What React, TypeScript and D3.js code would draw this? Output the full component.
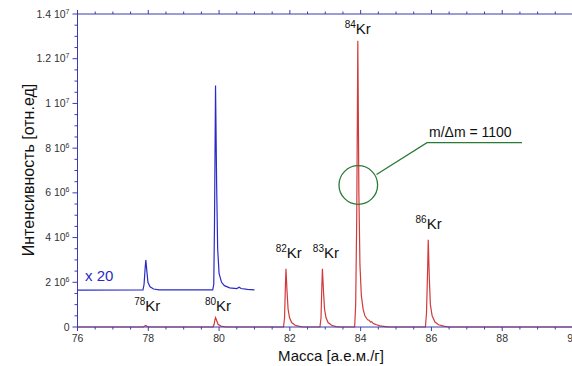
import React from "react";
import * as d3 from "d3";

// x-axis: mass; y-axis: intensity (units of 1e6)
const xTicksMajor = [76, 78, 80, 82, 84, 86, 88, 90];
const xTickLabels = ["76", "78", "80", "82", "84", "86", "88", "90"];
const yTicksMajor = [0, 2, 4, 6, 8, 10, 12, 14];
const yTickMant = ["0", "2", "4", "6", "8", "1", "1.2", "1.4"];
const yTickExp = ["", "6", "6", "6", "6", "7", "7", "7"];

// red spectrum [mass, intensity x1e6]
const redMass = [
  76, 77.86, 77.9, 77.93, 77.97, 78.05,
  79.83, 79.86, 79.88, 79.9, 79.93, 79.97, 80.05, 80.2,
  81.82, 81.85, 81.87, 81.89, 81.92, 81.95, 81.99, 82.05, 82.15, 82.3, 82.4,
  82.85, 82.88, 82.9, 82.92, 82.95, 82.98, 83.02, 83.08, 83.18, 83.3, 83.4,
  83.83, 83.86, 83.89, 83.92, 83.95, 83.98, 84.02, 84.07, 84.12, 84.17, 84.2, 84.24, 84.28, 84.31, 84.35, 84.4, 84.45, 84.55, 84.7, 84.8,
  85.83, 85.86, 85.89, 85.91, 85.94, 85.97, 86.02, 86.1, 86.2, 86.35, 86.5, 90,
];
const redInt = [
  0, 0, 0.04, 0.07, 0.02, 0,
  0, 0.12, 0.3, 0.42, 0.3, 0.12, 0.04, 0,
  0, 0.4, 1.6, 2.6, 1.6, 0.8, 0.42, 0.2, 0.08, 0.02, 0,
  0, 0.4, 1.6, 2.6, 1.6, 0.8, 0.42, 0.2, 0.08, 0.02, 0,
  0, 1.0, 5.0, 12.8, 6.0, 2.8, 1.4, 0.8, 0.5, 0.38, 0.32, 0.3, 0.22, 0.24, 0.17, 0.13, 0.1, 0.05, 0.02, 0,
  0, 0.6, 2.4, 3.9, 2.2, 1.0, 0.5, 0.22, 0.1, 0.04, 0, 0,
];

// blue spectrum (x20, offset)
const blueMass = [
  76, 77.85, 77.88, 77.91, 77.93, 77.96, 77.99, 78.05, 78.15, 78.3,
  79.82, 79.85, 79.87, 79.9, 79.93, 79.96, 80.0, 80.07, 80.15, 80.3, 80.5, 80.57, 80.62, 80.8, 81.0,
];
const blueInt = [
  1.65, 1.66, 1.9, 2.6, 3.0, 2.5, 2.0, 1.8, 1.7, 1.66,
  1.66, 1.9, 4.5, 10.8, 6.5, 3.5, 2.4, 2.0, 1.85, 1.75, 1.72, 1.78, 1.72, 1.68, 1.66,
];

const isoLabels = ["78", "80", "82", "83", "84", "86"];
const isoMass = [77.6, 79.6, 81.6, 82.65, 83.55, 85.55];
const isoInt = [0.7, 0.7, 3.1, 3.1, 13.1, 4.4];

const W = 572;
const H = 366;
const x0 = 77.5, x1 = 573, yTop = 14, yBot = 327;
const axisColor = "#3b3bb0";
const font = "'Liberation Sans', Arial, sans-serif";

export default function App() {
  const x = d3.scaleLinear().domain([76, 90]).range([x0, x1]);
  const y = d3.scaleLinear().domain([0, 14]).range([yBot, yTop]);
  const line = d3
    .line<[number, number]>()
    .x((d) => x(d[0]))
    .y((d) => y(d[1]));
  const red: [number, number][] = redMass.map((m, i) => [m, redInt[i]]);
  const blue: [number, number][] = blueMass.map((m, i) => [m, blueInt[i]]);
  const xMinor = d3.range(76, 90.001, 0.5).filter((v) => Math.abs(v % 2) > 0.01);
  const yMinor = d3.range(0, 14.001, 0.5).filter((v) => Math.abs(v % 2) > 0.01);

  return (
    <svg
      width={W}
      height={H}
      style={{ position: "absolute", left: 0, top: 0, background: "#fff" }}
      fontFamily={font}
    >
      <rect x={0} y={0} width={W} height={H} fill="#fff" />
      {/* red spectrum */}
      <path d={line(red) || ""} fill="none" stroke="#d23a3a" strokeWidth={1.2} />
      {/* blue spectrum */}
      <path d={line(blue) || ""} fill="none" stroke="#2a2ac8" strokeWidth={1.2} />

      {/* axes */}
      <g stroke={axisColor} strokeWidth={1}>
        <line x1={x0} x2={x0} y1={yTop} y2={yBot} />
        <line x1={x0} x2={x1} y1={yBot} y2={yBot} />
        <line x1={x0} x2={x1} y1={yTop} y2={yTop} />
        <line x1={x1} x2={x1} y1={yTop} y2={yBot} />
        {xTicksMajor.map((v) => (
          <g key={"xm" + v}>
            <line x1={x(v)} x2={x(v)} y1={yBot} y2={yBot + 4} />
            <line x1={x(v)} x2={x(v)} y1={yTop} y2={yTop - 4} />
          </g>
        ))}
        {xMinor.map((v) => (
          <g key={"xn" + v}>
            <line x1={x(v)} x2={x(v)} y1={yBot} y2={yBot + 2.5} />
            <line x1={x(v)} x2={x(v)} y1={yTop} y2={yTop - 2.5} />
          </g>
        ))}
        {yTicksMajor.map((v) => (
          <line key={"ym" + v} x1={x0 - 5} x2={x0} y1={y(v)} y2={y(v)} />
        ))}
        {yMinor.map((v) => (
          <line key={"yn" + v} x1={x0 - 3} x2={x0} y1={y(v)} y2={y(v)} />
        ))}
      </g>

      {/* x tick labels */}
      {xTicksMajor.map((v, i) => (
        <text key={"xl" + v} x={x(v)} y={yBot + 15} fontSize={10.5} textAnchor="middle" fill="#333">
          {xTickLabels[i]}
        </text>
      ))}
      {/* y tick labels */}
      {yTicksMajor.map((v, i) => (
        <text key={"yl" + v} x={x0 - 8} y={y(v) + 3.5} fontSize={10.5} textAnchor="end" fill="#333">
          {yTickExp[i] ? (
            <>
              {yTickMant[i] + " 10"}
              <tspan fontSize={7} dy={-4}>{yTickExp[i]}</tspan>
            </>
          ) : (
            yTickMant[i]
          )}
        </text>
      ))}

      {/* axis titles */}
      <text x={331} y={361} fontSize={15} textAnchor="middle" fill="#111">
        Масса [а.е.м./г]
      </text>
      <text
        transform={`translate(34,170) rotate(-90)`}
        fontSize={16}
        textAnchor="middle"
        fill="#111"
      >
        Интенсивность [отн.ед]
      </text>

      {/* isotope labels */}
      {isoLabels.map((lab, i) => (
        <text key={"iso" + lab} x={x(isoMass[i])} y={y(isoInt[i])} fontSize={15} fill="#111">
          <tspan fontSize={10} dy={-6}>{lab}</tspan>
          <tspan dy={6}>Kr</tspan>
        </text>
      ))}

      <text x={85} y={281} fontSize={15} fill="#2a2ac8">x 20</text>

      {/* resolution annotation */}
      <g stroke="#2a7a35" strokeWidth={1.3} fill="none">
        <circle cx={358.3} cy={185} r={19.3} />
        <polyline points="376.5,174.5 427,142.7 522,142.7" />
      </g>
      <text x={429} y={137} fontSize={14} fill="#111">m/Δm = 1100</text>
    </svg>
  );
}
